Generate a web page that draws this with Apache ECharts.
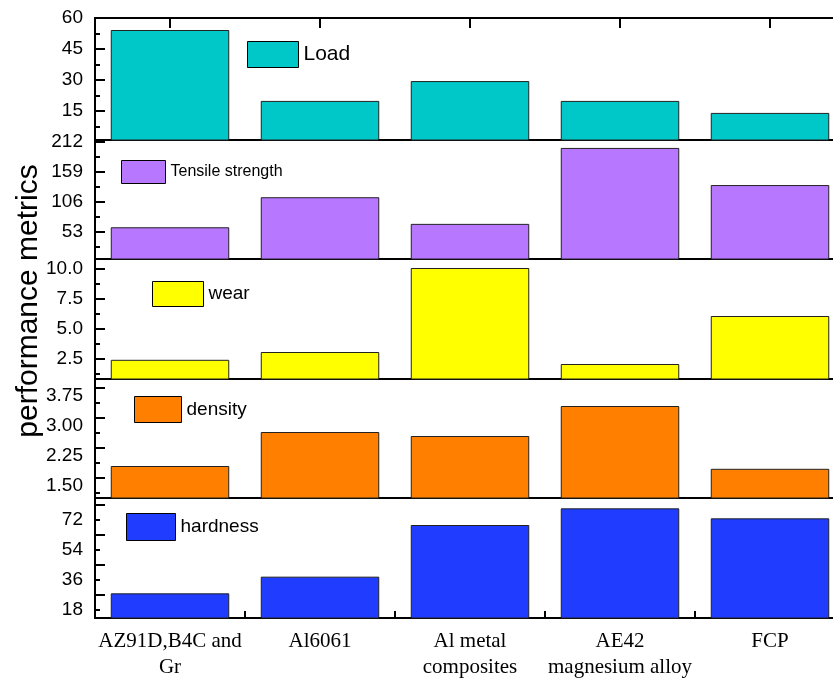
<!DOCTYPE html>
<html>
<head>
<meta charset="utf-8">
<script src="https://cdn.jsdelivr.net/npm/echarts@6/dist/echarts.min.js"></script>
<style>html,body{margin:0;padding:0;background:#fff;}#c{width:833px;height:680px;}</style>
</head>
<body>
<div id="c"></div>
<script>
// ---- data ----
const categories = ['AZ91D,B4C and\nGr', 'Al6061', 'Al metal\ncomposites', 'AE42\nmagnesium alloy', 'FCP'];
const seriesNames = ['Load', 'Tensile strength', 'wear', 'density', 'hardness'];
const load = [54.2, 19.9, 29.5, 19.9, 14.1];
const tensile = [61, 114, 67, 201, 135.5];
const wear = [2.4, 3.05, 10.05, 2.05, 6.05];
const density = [2.0, 2.85, 2.75, 3.5, 1.93];
const hardness = [28, 38, 69, 79, 73];
// tick labels
const loadLabels = [15, 30, 45, 60];
const tensileLabels = [53, 106, 159, 212];
const wearLabels = [2.5, 5.0, 7.5, 10.0];
const densityLabels = [1.50, 2.25, 3.00, 3.75];
const hardnessLabels = [18, 36, 54, 72];

// ---- layout / style ----
const panels = [
  {data: load, labels: loadLabels, dec: 0, min: 1, max: 60, top: 18, height: 122, color: '#00C8C8',
   major: [15, 30, 45, 60], minor: [7.5, 22.5, 37.5, 52.5],
   legend: {left: 247, top: 41, w: 51, h: 26, fs: 21}},
  {data: tensile, labels: tensileLabels, dec: 0, min: 5, max: 215, top: 140, height: 119, color: '#B877FF',
   major: [53, 106, 159, 212], minor: [26.5, 79.5, 132.5, 185.5],
   legend: {left: 121, top: 160, w: 44, h: 23, fs: 16}},
  {data: wear, labels: wearLabels, dec: 1, min: 0.8, max: 10.8, top: 259, height: 120, color: '#FFFF00',
   major: [2.5, 5, 7.5, 10], minor: [1.25, 3.75, 6.25, 8.75],
   legend: {left: 152, top: 281, w: 51, h: 25, fs: 19}},
  {data: density, labels: densityLabels, dec: 2, min: 1.2, max: 4.175, top: 379, height: 119, color: '#FF8000',
   major: [1.7, 2.45, 3.2, 3.95], minor: [1.325, 2.075, 2.825, 3.575],
   legend: {left: 134, top: 396, w: 47, h: 26, fs: 19}},
  {data: hardness, labels: hardnessLabels, dec: 0, min: 13.2, max: 85.2, top: 498, height: 120, color: '#1F3CFF',
   major: [27, 45, 63, 81], minor: [18, 36, 54, 72],
   legend: {left: 126, top: 513, w: 49, h: 27, fs: 19}}
];

const grid = [], xAxis = [], yAxis = [], series = [], legend = [];
panels.forEach((p, i) => {
  grid.push({left: 95, width: 750, top: p.top, height: p.height, show: true,
    outerBoundsMode: 'none', containLabel: false,
    borderColor: '#000', borderWidth: 2, backgroundColor: 'transparent'});
  const isTop = i === 0, isBottom = i === panels.length - 1;
  xAxis.push({
    type: 'category', gridIndex: i, data: categories,
    position: isTop ? 'top' : 'bottom',
    axisLine: {show: false},
    axisTick: {show: isTop || isBottom, inside: true, alignWithLabel: isTop,
      length: isTop ? 10 : 7, lineStyle: {color: '#000', width: 2}},
    axisLabel: {show: isBottom, color: '#000', fontFamily: 'Liberation Serif, Times New Roman, serif',
      fontSize: 21, lineHeight: 26, margin: 10, interval: 0},
    splitLine: {show: false}
  });
  yAxis.push({
    type: 'value', gridIndex: i, min: p.min, max: p.max, position: 'left',
    axisLine: {show: false},
    splitLine: {show: false},
    axisTick: {show: true, inside: true, length: 10, customValues: p.major,
      lineStyle: {color: '#000', width: 2}},
    axisLabel: {show: true, customValues: p.labels, margin: 12, color: '#000',
      fontFamily: 'Liberation Sans, Arial, sans-serif', fontSize: 19,
      formatter: v => Number(v).toFixed(p.dec)}
  });
  yAxis.push({
    type: 'value', gridIndex: i, min: p.min, max: p.max, position: 'left', offset: 0,
    axisLine: {show: false}, splitLine: {show: false},
    axisLabel: {show: false},
    axisTick: {show: true, inside: true, length: 5, customValues: p.minor,
      lineStyle: {color: '#000', width: 2}}
  });
  series.push({
    name: seriesNames[i], type: 'bar', xAxisIndex: i, yAxisIndex: 2 * i,
    data: p.data, barWidth: '79%',
    itemStyle: {color: p.color, borderColor: '#222', borderWidth: 1},
    animation: false
  });
  legend.push({
    data: [seriesNames[i]], left: p.legend.left, top: p.legend.top, padding: 0,
    itemWidth: p.legend.w, itemHeight: p.legend.h, icon: 'rect',
    itemStyle: {borderColor: '#000', borderWidth: 1},
    textStyle: {fontSize: p.legend.fs, color: '#000', fontFamily: 'Liberation Sans, Arial, sans-serif'},
    selectedMode: false
  });
});

const chart = echarts.init(document.getElementById('c'), null, {renderer: 'canvas'});
chart.setOption({
  animation: false,
  backgroundColor: '#fff',
  grid, xAxis, yAxis, series, legend,
  graphic: [{
    type: 'text', x: 29, y: 301, rotation: Math.PI / 2,
    style: {text: 'performance metrics', fontSize: 30, fill: '#000',
      fontFamily: 'Liberation Sans, Arial, sans-serif', align: 'center', verticalAlign: 'middle'}
  }]
});
</script>
</body>
</html>
